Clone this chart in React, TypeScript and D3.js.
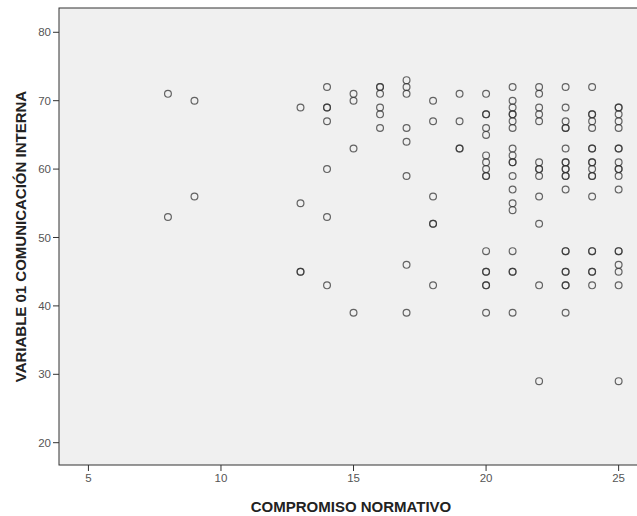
import React from "react";
import * as d3 from "d3";

// x = COMPROMISO NORMATIVO, y = VARIABLE 01 COMUNICACIÓN INTERNA
const col8 = [71, 53];
const col9 = [70, 56];
const col13 = [69, 55, 45, 45];
const col14 = [72, 69, 69, 67, 60, 53, 43];
const col15 = [71, 70, 63, 39];
const col16 = [72, 72, 71, 69, 68, 66];
const col17 = [73, 72, 71, 66, 64, 59, 46, 39];
const col18 = [70, 67, 56, 52, 52, 43];
const col19 = [71, 67, 63, 63];
const col20 = [71, 68, 68, 66, 65, 62, 61, 60, 59, 59, 48, 45, 45, 43, 43, 39];
const col21 = [72, 70, 69, 68, 68, 67, 66, 63, 62, 61, 61, 59, 57, 55, 54, 48, 45, 45, 39];
const col22 = [72, 71, 69, 68, 67, 61, 60, 60, 59, 56, 52, 43, 29];
const col23 = [72, 69, 67, 66, 66, 63, 61, 61, 60, 60, 59, 59, 57, 48, 48, 45, 45, 43, 43, 39];
const col24 = [72, 68, 68, 67, 66, 63, 63, 61, 61, 60, 59, 59, 56, 48, 48, 45, 45, 43];
const col25 = [69, 69, 68, 67, 66, 63, 63, 61, 60, 60, 59, 57, 48, 48, 46, 45, 43, 29];

const columns: [number, number[]][] = [
  [8, col8], [9, col9], [13, col13], [14, col14], [15, col15], [16, col16],
  [17, col17], [18, col18], [19, col19], [20, col20], [21, col21],
  [22, col22], [23, col23], [24, col24], [25, col25],
];

const xTicks = [5, 10, 15, 20, 25];
const yTicks = [20, 30, 40, 50, 60, 70, 80];

const W = 637;
const H = 516;
const plot = { left: 59, top: 8, bottom: 465 };

export default function App() {
  const x = d3.scaleLinear().domain([3.89, 26.11]).range([plot.left, plot.left + 22.22 * 26.51]);
  const y = d3.scaleLinear().domain([16.74, 83.55]).range([plot.bottom, plot.top]);

  const points = columns.flatMap(([cx, vals]) => vals.map((v) => ({ cx, v })));
  const font = "'Liberation Sans', Arial, sans-serif";

  return (
    <svg width={W} height={H} style={{ position: "fixed", left: 0, top: 0, background: "#fff" }}>
      <rect
        x={plot.left}
        y={plot.top}
        width={x.range()[1] - plot.left}
        height={plot.bottom - plot.top}
        fill="#f0f0f0"
        stroke="#333"
        strokeWidth={1}
      />
      {yTicks.map((t) => (
        <g key={"y" + t}>
          <line x1={plot.left - 6} x2={plot.left} y1={y(t)} y2={y(t)} stroke="#333" />
          <text x={plot.left - 8} y={y(t)} dy="0.35em" textAnchor="end" fontFamily={font} fontSize={11.5} fill="#555">
            {t}
          </text>
        </g>
      ))}
      {xTicks.map((t) => (
        <g key={"x" + t}>
          <line x1={x(t)} x2={x(t)} y1={plot.bottom} y2={plot.bottom + 6} stroke="#333" />
          <text x={x(t)} y={plot.bottom + 17} textAnchor="middle" fontFamily={font} fontSize={11.5} fill="#555">
            {t}
          </text>
        </g>
      ))}
      {points.map((p, i) => (
        <circle
          key={i}
          cx={x(p.cx)}
          cy={y(p.v)}
          r={3.4}
          fill="none"
          stroke="#333"
          strokeOpacity={0.75}
          strokeWidth={1.2}
        />
      ))}
      <text x={351} y={512} textAnchor="middle" fontFamily={font} fontSize={15} fontWeight="bold" fill="#222">
        COMPROMISO NORMATIVO
      </text>
      <text
        transform={`translate(26,${(plot.top + plot.bottom) / 2}) rotate(-90)`}
        textAnchor="middle"
        fontFamily={font}
        fontSize={15}
        fontWeight="bold"
        fill="#222"
      >
        VARIABLE 01 COMUNICACIÓN INTERNA
      </text>
    </svg>
  );
}
